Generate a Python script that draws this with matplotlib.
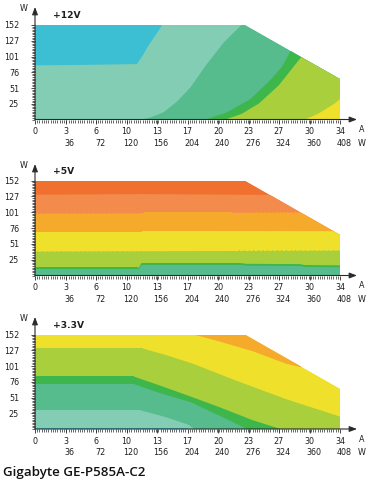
import numpy as np
import matplotlib
matplotlib.use("Agg")
import matplotlib.pyplot as plt
from matplotlib.patches import Polygon

# ---------------- data ----------------
amp_labels = ['0', '3', '6', '10', '13', '17', '20', '23', '27', '30', '34']
watt_labels = ['36', '72', '120', '156', '204', '240', '276', '324', '360', '408']
y_labels = ['25', '51', '76', '101', '127', '152']
amp_max = 34
watt_max = 152

# power-limit outline (A on x, W on y)
limit_x = [0, 0, 23.4, 34, 34]
limit_y = [0, 152, 152, 65, 0]

# colours of efficiency zones
c_cyan = '#3dbfd3'
c_teal = '#82cdb3'
c_green = '#56bc8d'
c_bright = '#3db64b'
c_ygreen = '#a9cf3c'
c_yellow = '#efe12b'
c_orange = '#f5aa2c'
c_salmon = '#f38b4d'
c_red = '#f0702f'

# +12V panel zone boundaries
p12_cyan_x = [0, 5, 11.3, 12.0, 12.6, 13.4, 14.1]
p12_cyan_y = [88, 88.5, 90, 105, 120, 137, 152]
p12_green_x = [11.7, 13.0, 14.3, 15.8, 17.3, 19.0, 21.0, 22.9, 34]
p12_green_y = [0, 5, 12.6, 30, 53, 88, 125, 152, 152]
p12_bright_x = [18.8, 21.3, 24.0, 26.3, 27.5, 28.4, 30, 34]
p12_bright_y = [0, 12, 34, 66, 86, 110, 140, 152]
p12_ygreen_x = [21.0, 23.0, 24.9, 27.1, 29.5, 30.5, 32, 34]
p12_ygreen_y = [0, 10, 26.5, 55.5, 99, 115, 140, 152]
p12_yellow_x = [29.9, 31.5, 33.3, 34]
p12_yellow_y = [0, 10, 26, 34]

# +5V panel zone boundaries (zone below each curve)
p5_salmon_x = [0, 12, 23, 34]
p5_salmon_y = [130, 131, 130, 129]
p5_orange_x = [0, 11.7, 12.0, 22, 34]
p5_orange_y = [99.5, 100, 101, 101, 101.5]
p5_yellow_x = [0, 11.7, 12.0, 34]
p5_yellow_y = [70, 70, 72, 71.5]
p5_ygreen_x = [0, 34]
p5_ygreen_y = [39, 40.5]
p5_bright_x = [0, 11.5, 11.8, 23, 23.5, 29.5, 30, 34]
p5_bright_y = [13, 13, 20.5, 20.5, 19.5, 19, 17.5, 17]
p5_green_x = [0, 11.5, 11.8, 23, 23.5, 29.5, 30, 34]
p5_green_y = [10.5, 10.5, 17.5, 17.5, 16.5, 16, 14.5, 14]

# +3.3V panel zone boundaries
p33_orange_x = [17.8, 20.4, 24.2, 27.9, 29.6]
p33_orange_y = [152, 142, 126, 106, 100]
p33_ygreen_x = [0, 12.0, 14.5, 17.5, 22.3, 27.9, 34]
p33_ygreen_y = [130, 130, 120, 106, 79, 49, 20.5]
p33_bright_x = [0, 11, 14, 17.3, 20.4, 24.2, 27.5]
p33_bright_y = [85, 85, 70, 53, 36.5, 15, 0]
p33_green_x = [0, 11, 14, 17.3, 20.4, 23.7]
p33_green_y = [73, 73, 58, 44, 23, 0]
p33_teal_x = [0, 11.7, 14.5, 17, 17.8]
p33_teal_y = [31, 31, 20, 8, 0]
p33_cyan_x = [0, 17]
p33_cyan_y = [1.3, 1.3]

panel_titles = ['+12V', '+5V', '+3.3V']
footer = 'Gigabyte GE-P585A-C2'

# ---------------- drawing ----------------
W, H = 372, 482
fig = plt.figure(figsize=(W / 100, H / 100), dpi=100)
plt.rcParams['font.family'] = ['DejaVu Sans']

AX_L, AX_R = 35, 340
TXT = '#1e1e1e'
AXC = '#2a2a2a'


def make_axes(top, bottom, arrow_tip, title, title_base):
    ax = fig.add_axes([AX_L / W, 1 - bottom / H, (AX_R - AX_L) / W, (bottom - top) / H])
    ax.set_xlim(0, amp_max)
    ax.set_ylim(0, watt_max)
    for s in ax.spines.values():
        s.set_visible(False)
    ax.patch.set_alpha(0)
    # ticks
    major = np.linspace(0, amp_max, 11)
    ax.set_xticks(major, labels=amp_labels)
    ax.set_xticks(np.arange(0, amp_max + 0.01, 0.25), minor=True)
    ymaj = np.linspace(0, watt_max, 7)[1:]
    ax.set_yticks(ymaj, labels=y_labels)
    ax.set_yticks(np.linspace(0, watt_max, 61), minor=True)
    ax.tick_params(which='major', length=3, width=0.6, color=AXC, labelsize=5.8,
                   labelcolor=TXT)
    ax.tick_params(axis='x', which='major', pad=2.6)
    ax.tick_params(axis='y', which='major', pad=8.5)
    ax.tick_params(which='minor', length=2, width=0.5, color=AXC)
    # second row of x labels (W)
    for xv, lab in zip(major[1:], watt_labels):
        ax.annotate(lab, xy=(xv, 0), xycoords=('data', 'axes fraction'),
                    xytext=(4, -23.5), textcoords='offset pixels',
                    ha='center', va='center', fontsize=5.8, color=TXT)
    # axis arrows
    h = bottom - top
    ytip = (bottom - arrow_tip) / h
    ax.annotate('', xy=(0, ytip), xytext=(0, 0), xycoords='axes fraction',
                arrowprops=dict(arrowstyle='-|>,head_length=0.45,head_width=0.17',
                                lw=0.8, color=AXC, shrinkA=0, shrinkB=0),
                annotation_clip=False)
    ax.annotate('', xy=((357 - AX_L) / (AX_R - AX_L), 0), xytext=(0, 0),
                xycoords='axes fraction',
                arrowprops=dict(arrowstyle='-|>,head_length=0.45,head_width=0.17',
                                lw=0.8, color=AXC, shrinkA=0, shrinkB=0),
                annotation_clip=False)
    # unit labels
    fig.text(24 / W, 1 - (arrow_tip + 1.5) / H, 'W', ha='center', va='center',
             fontsize=5.8, color=TXT)
    fig.text(362 / W, 1 - (bottom + 10.5) / H, 'A', ha='center', va='center',
             fontsize=5.8, color=TXT)
    fig.text(362 / W, 1 - (bottom + 23.5) / H, 'W', ha='center', va='center',
             fontsize=5.8, color=TXT)
    fig.text(53 / W, 1 - title_base / H, title, ha='left', va='baseline',
             fontsize=6.6, fontweight='bold', color=TXT)
    clip = Polygon(np.column_stack([limit_x, limit_y]), closed=True,
                   transform=ax.transData, facecolor='none', edgecolor='none')
    ax.add_patch(clip)
    return ax, clip


def base(ax, clip, color):
    p = ax.fill(limit_x, limit_y, color=color, lw=0)[0]
    p.set_clip_path(clip)


def below(ax, clip, xs, ys, color):
    c = ax.fill_between(xs, 0, ys, color=color, lw=0)
    c.set_clip_path(clip)


def above(ax, clip, xs, ys, color):
    c = ax.fill_between(xs, ys, watt_max, color=color, lw=0)
    c.set_clip_path(clip)


# panel 1 : +12V
ax1, cl1 = make_axes(25, 119.5, 7, panel_titles[0], 18.5)
base(ax1, cl1, c_teal)
above(ax1, cl1, p12_cyan_x, p12_cyan_y, c_cyan)
below(ax1, cl1, p12_green_x, p12_green_y, c_green)
below(ax1, cl1, p12_bright_x, p12_bright_y, c_bright)
below(ax1, cl1, p12_ygreen_x, p12_ygreen_y, c_ygreen)
below(ax1, cl1, p12_yellow_x, p12_yellow_y, c_yellow)

# panel 2 : +5V
ax2, cl2 = make_axes(180.5, 275.5, 164, panel_titles[1], 173.5)
base(ax2, cl2, c_red)
below(ax2, cl2, p5_salmon_x, p5_salmon_y, c_salmon)
below(ax2, cl2, p5_orange_x, p5_orange_y, c_orange)
below(ax2, cl2, p5_yellow_x, p5_yellow_y, c_yellow)
below(ax2, cl2, p5_ygreen_x, p5_ygreen_y, c_ygreen)
below(ax2, cl2, p5_bright_x, p5_bright_y, c_bright)
below(ax2, cl2, p5_green_x, p5_green_y, c_green)

# panel 3 : +3.3V
ax3, cl3 = make_axes(334.5, 429, 317, panel_titles[2], 328)
base(ax3, cl3, c_yellow)
above(ax3, cl3, p33_orange_x, p33_orange_y, c_orange)
below(ax3, cl3, p33_ygreen_x, p33_ygreen_y, c_ygreen)
below(ax3, cl3, p33_bright_x, p33_bright_y, c_bright)
below(ax3, cl3, p33_green_x, p33_green_y, c_green)
below(ax3, cl3, p33_teal_x, p33_teal_y, c_teal)
below(ax3, cl3, p33_cyan_x, p33_cyan_y, c_cyan)

fig.text(3 / W, 1 - 476 / H, footer, ha='left', va='baseline', fontsize=9.6,
         fontweight='semibold', family=['Open Sans', 'DejaVu Sans'], color='#111111')

fig.savefig('out.png', dpi=100)
